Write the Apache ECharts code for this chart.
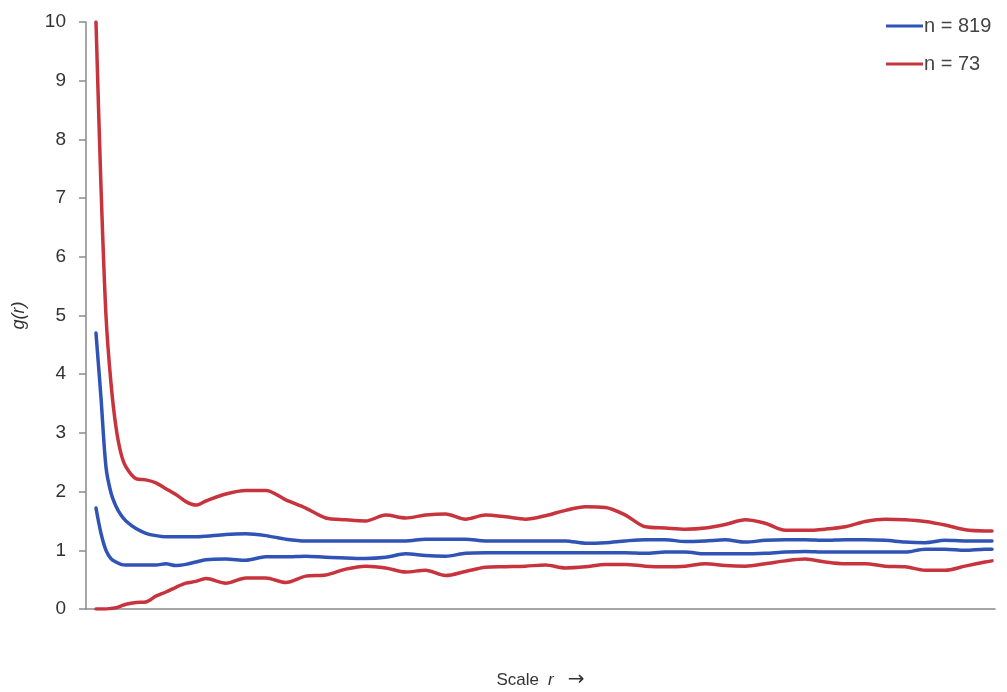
<!DOCTYPE html>
<html>
<head>
<meta charset="utf-8">
<title>g(r)</title>
<script src="https://cdn.jsdelivr.net/npm/echarts@6/dist/echarts.min.js"></script>
<style>
  html, body { margin: 0; padding: 0; background: #ffffff; }
  #chart { width: 1007px; height: 692px; }
</style>
</head>
<body>
<div id="chart"></div>
<script>
// Scale r at which g(r) was evaluated (denser near the origin where the curves drop fast)
const scaleR = [1, 1.5, 2, 2.5, 3, 3.5, 4, 5, 6, 7, 8, 9, 10, 11, 12,
  14, 16, 18, 20, 22, 24, 26, 28, 30, 32, 34, 36, 38, 40, 42, 44, 46, 48, 50, 52,
  54, 56, 58, 60, 62, 64, 66, 68, 70, 72, 74, 76, 78, 80, 82, 84, 86, 88, 90, 90.7];

// n = 819 envelope
const upper819 = [4.7, 3.6, 2.42, 1.98, 1.75, 1.6, 1.5, 1.37, 1.29, 1.25, 1.23, 1.23, 1.23, 1.23, 1.24,
  1.27, 1.28, 1.25, 1.19, 1.16, 1.16, 1.16, 1.16, 1.16, 1.16,
  1.19, 1.19, 1.19, 1.16, 1.16, 1.16, 1.16, 1.16, 1.12, 1.13,
  1.16, 1.18, 1.18, 1.15, 1.16, 1.18, 1.14, 1.17, 1.18, 1.18,
  1.17, 1.18, 1.18, 1.17, 1.14, 1.13, 1.17, 1.16, 1.16, 1.16];
const lower819 = [1.72, 1.29, 1.0, 0.86, 0.80, 0.76, 0.75, 0.75, 0.75, 0.75, 0.77, 0.74, 0.76, 0.80, 0.84,
  0.85, 0.83, 0.89, 0.89, 0.90, 0.88, 0.87, 0.86, 0.88, 0.94,
  0.91, 0.90, 0.95, 0.96, 0.96, 0.96, 0.96, 0.96, 0.96, 0.96,
  0.96, 0.95, 0.97, 0.97, 0.94, 0.94, 0.94, 0.95, 0.97, 0.98,
  0.97, 0.97, 0.97, 0.97, 0.97, 1.02, 1.02, 1.00, 1.02, 1.02];

// n = 73 envelope
const upper73 = [10, 7.2, 5.0, 3.85, 3.1, 2.65, 2.42, 2.22, 2.2, 2.15, 2.05, 1.95, 1.83, 1.77, 1.84,
  1.96, 2.02, 2.02, 1.86, 1.72, 1.55, 1.52, 1.5, 1.6, 1.55,
  1.6, 1.62, 1.53, 1.6, 1.57, 1.53, 1.59, 1.68, 1.74, 1.73,
  1.6, 1.40, 1.38, 1.36, 1.38, 1.44, 1.52, 1.46, 1.34, 1.34,
  1.36, 1.4, 1.49, 1.53, 1.52, 1.49, 1.43, 1.35, 1.33, 1.33];
const lower73 = [0, 0, 0, 0.01, 0.02, 0.05, 0.08, 0.11, 0.12, 0.22, 0.29, 0.37, 0.44, 0.47, 0.52,
  0.44, 0.53, 0.53, 0.45, 0.56, 0.58, 0.68, 0.73, 0.70, 0.63,
  0.66, 0.57, 0.64, 0.71, 0.72, 0.73, 0.75, 0.70, 0.72, 0.76,
  0.76, 0.73, 0.72, 0.73, 0.77, 0.74, 0.73, 0.77, 0.82, 0.85,
  0.80, 0.77, 0.77, 0.73, 0.72, 0.66, 0.66, 0.73, 0.80, 0.82];

const yTicks = [0, 1, 2, 3, 4, 5, 6, 7, 8, 9, 10];
const seriesNames = ['n = 819', 'n = 73'];

const BLUE = '#2f54b6';
const RED = '#c8343e';
const FONT = '"Liberation Sans", Arial, sans-serif';

const zip = (vals) => scaleR.map((r, i) => [r, vals[i]]);

function lineSeries(name, vals, color) {
  return {
    name: name,
    type: 'line',
    data: zip(vals),
    showSymbol: false,
    smooth: 0.3,
    lineStyle: { color: color, width: 3.5, join: 'round', cap: 'round' },
    itemStyle: { color: color },
    emphasis: { disabled: true }
  };
}

const chart = echarts.init(document.getElementById('chart'), null, { renderer: 'canvas' });

chart.setOption({
  animation: false,
  backgroundColor: '#ffffff',
  textStyle: { fontFamily: FONT },
  grid: { left: 86, right: 12, top: 22, bottom: 83, containLabel: false, outerBoundsMode: 'none' },
  legend: {
    data: seriesNames,
    orient: 'vertical',
    left: 881,
    top: 10,
    align: 'left',
    icon: 'rect',
    itemWidth: 37,
    itemHeight: 3,
    itemGap: 16,
    textStyle: { color: '#444', fontSize: 20, fontFamily: FONT, padding: [0, 0, 0, -4], lineHeight: 22 }
  },
  xAxis: {
    type: 'value',
    min: 0,
    max: 91,
    name: '{n|Scale}{i|r}{a|\u2192}',
    nameLocation: 'middle',
    nameGap: 61,
    nameTextStyle: {
      rich: {
        n: { fontSize: 17, color: '#333', fontFamily: FONT },
        i: { fontSize: 17, color: '#333', fontFamily: FONT, fontStyle: 'italic', padding: [0, 0, 0, 9] },
        a: { fontSize: 20, color: '#333', fontFamily: '"DejaVu Sans", sans-serif', padding: [0, 0, 0, 14] }
      }
    },
    axisLine: { show: true, lineStyle: { color: '#8a8a8a', width: 1.5 } },
    axisTick: { show: false },
    axisLabel: { show: false },
    splitLine: { show: false }
  },
  yAxis: {
    type: 'value',
    min: yTicks[0],
    max: yTicks[yTicks.length - 1],
    interval: 1,
    name: 'g(r)',
    nameLocation: 'middle',
    nameGap: 58,
    nameRotate: 90,
    nameTextStyle: { fontSize: 18, color: '#333', fontStyle: 'italic', fontFamily: FONT },
    axisLine: { show: true, lineStyle: { color: '#8a8a8a', width: 1.5 } },
    axisTick: { show: true, inside: false, length: 7, lineStyle: { color: '#8a8a8a', width: 1.5 } },
    axisLabel: { color: '#333', fontSize: 19, margin: 20, fontFamily: FONT },
    splitLine: { show: false }
  },
  series: [
    lineSeries(seriesNames[0], upper819, BLUE),
    lineSeries(seriesNames[0], lower819, BLUE),
    lineSeries(seriesNames[1], upper73, RED),
    lineSeries(seriesNames[1], lower73, RED)
  ]
});
</script>
</body>
</html>
